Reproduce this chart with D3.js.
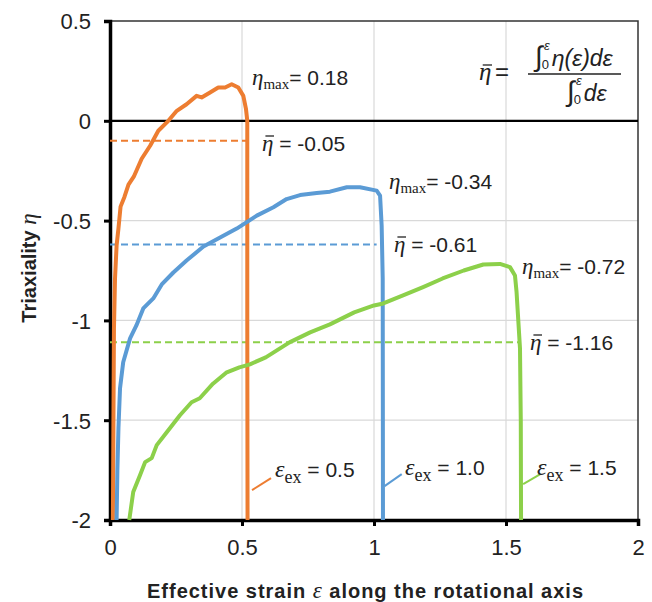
<!DOCTYPE html>
<html>
<head>
<meta charset="utf-8">
<script src="https://cdn.jsdelivr.net/npm/d3@7"></script>
<style>
  body { margin: 0; background: #fff; }
  svg { display: block; }
  text { font-family: "Liberation Sans", Arial, sans-serif; fill: #222; }
  .serif { font-family: "Liberation Serif", "DejaVu Serif", serif; font-style: italic; }
</style>
</head>
<body>
<div id="chart"></div>
<script>
// strain vs triaxiality
const ex05 = [[0.011,-2],[0.013,-1.5],[0.015,-1.04],[0.019,-0.79],[0.025,-0.625],[0.032,-0.54],[0.04,-0.43],
  [0.055,-0.38],[0.07,-0.32],[0.09,-0.28],[0.12,-0.19],[0.152,-0.125],[0.183,-0.05],[0.221,0],[0.253,0.05],
  [0.29,0.083],[0.328,0.125],[0.347,0.117],[0.379,0.142],[0.41,0.167],[0.436,0.167],[0.461,0.183],[0.486,0.167],
  [0.505,0.125],[0.515,0.06],[0.52,0],[0.52,-1],[0.521,-2]];
const ex10 = [[0.025,-2],[0.028,-1.75],[0.032,-1.54],[0.038,-1.34],[0.05,-1.21],[0.076,-1.09],[0.1,-1.025],
  [0.126,-0.94],[0.164,-0.89],[0.196,-0.82],[0.24,-0.76],[0.29,-0.70],[0.354,-0.63],[0.417,-0.585],[0.48,-0.54],
  [0.556,-0.475],[0.619,-0.433],[0.669,-0.392],[0.72,-0.372],[0.783,-0.362],[0.833,-0.355],[0.897,-0.333],
  [0.947,-0.333],[1.01,-0.35],[1.023,-0.375],[1.029,-0.525],[1.033,-0.79],[1.034,-2]];
const ex15 = [[0.073,-2],[0.088,-1.86],[0.114,-1.775],[0.133,-1.71],[0.158,-1.69],[0.177,-1.625],[0.215,-1.56],
  [0.265,-1.475],[0.309,-1.41],[0.34,-1.39],[0.39,-1.317],[0.44,-1.262],[0.49,-1.235],[0.53,-1.22],[0.59,-1.185],
  [0.68,-1.11],[0.758,-1.06],[0.833,-1.02],[0.925,-0.96],[1.0,-0.925],[1.035,-0.915],[1.11,-0.875],[1.186,-0.833],
  [1.26,-0.79],[1.34,-0.75],[1.414,-0.72],[1.477,-0.717],[1.515,-0.733],[1.534,-0.775],[1.54,-0.858],
  [1.547,-1.01],[1.553,-1.14],[1.556,-1.5],[1.557,-2]];

const seriesNames = ['0.5', '1.0', '1.5'];
const colors = ['#ED7D31', '#5B9BD5', '#8CD04A'];
// dashed average lines: level as drawn, end strain
const meanLevel = [-0.1, -0.62, -1.11];
const meanEnd = [0.54, 1.01, 1.55];
const meanText = ['-0.05', '-0.61', '-1.16'];
const maxText = ['0.18', '-0.34', '-0.72'];

const xTicks = [0, 0.5, 1, 1.5, 2];
const yTicks = [0.5, 0, -0.5, -1, -1.5, -2];

const width = 652, height = 602;
const x = d3.scaleLinear().domain([0, 2]).range([110, 638]);
const y = d3.scaleLinear().domain([-2, 0.5]).range([520, 21]);

const svg = d3.select('#chart').append('svg')
    .attr('width', width)
    .attr('height', height);

// grid
svg.append('g').selectAll('line')
    .data([0.5, 1, 1.5])
    .enter().append('line')
    .attr('x1', d => x(d)).attr('x2', d => x(d))
    .attr('y1', y(0.5)).attr('y2', y(-2))
    .attr('stroke', '#d9d9d9').attr('stroke-width', 1.2);
svg.append('g').selectAll('line')
    .data([-0.5, -1, -1.5])
    .enter().append('line')
    .attr('x1', x(0)).attr('x2', x(2))
    .attr('y1', d => y(d)).attr('y2', d => y(d))
    .attr('stroke', '#d9d9d9').attr('stroke-width', 1.2);

// frame top / right
svg.append('path')
    .attr('d', `M${x(0)},${y(0.5)}H${x(2)}V${y(-2)}`)
    .attr('fill', 'none').attr('stroke', '#333').attr('stroke-width', 1.5);

// zero line
svg.append('line')
    .attr('x1', x(0)).attr('x2', x(2))
    .attr('y1', y(0)).attr('y2', y(0))
    .attr('stroke', '#000').attr('stroke-width', 2.2);

// axes (plain hyphen minus like the original)
const yAxis = d3.axisLeft(y).tickValues(yTicks).tickSize(6).tickFormat(d => String(d));
const xAxis = d3.axisBottom(x).tickValues(xTicks).tickSize(6).tickFormat(d => String(d));

const gy = svg.append('g').attr('transform', `translate(${x(0)},0)`).call(yAxis);
const gx = svg.append('g').attr('transform', `translate(0,${y(-2)})`).call(xAxis);
[gy, gx].forEach(g => {
    g.select('.domain').attr('stroke', '#000').attr('stroke-width', 3.5);
    g.selectAll('.tick line').attr('stroke', '#000').attr('stroke-width', 3);
    g.selectAll('.tick text')
        .attr('font-family', '"Liberation Sans", Arial, sans-serif')
        .attr('font-size', 22).attr('fill', '#262626');
});
gy.selectAll('.tick text').attr('x', -19).attr('dy', '0.36em');
gx.selectAll('.tick text').attr('y', 19);

// dashed means
svg.append('g').selectAll('line')
    .data(meanLevel)
    .enter().append('line')
    .attr('x1', x(0)).attr('x2', (d, i) => x(meanEnd[i]))
    .attr('y1', d => y(d)).attr('y2', d => y(d))
    .attr('stroke', (d, i) => colors[i])
    .attr('stroke-width', 2)
    .attr('stroke-dasharray', '7,4');

// curves
const line = d3.line().x(d => x(d[0])).y(d => y(d[1]));
svg.append('g').selectAll('path')
    .data([ex05, ex10, ex15])
    .enter().append('path')
    .attr('d', line)
    .attr('fill', 'none')
    .attr('stroke', (d, i) => colors[i])
    .attr('stroke-width', 4)
    .attr('stroke-linejoin', 'round');

// bar over the first glyph of a text
function addBar(t, rise) {
    const ext = t.node().getExtentOfChar(0);
    const by = +t.attr('y') - rise;
    svg.append('line')
        .attr('x1', ext.x + ext.width * 0.3).attr('x2', ext.x + ext.width * 1.05)
        .attr('y1', by).attr('y2', by)
        .attr('stroke', '#222').attr('stroke-width', 1.3);
}

// eta_max labels
const maxPos = [[252, 85], [389, 189], [522, 274]];
maxPos.forEach((p, i) => {
    const t = svg.append('text').attr('x', p[0]).attr('y', p[1]).attr('font-size', 21);
    t.append('tspan').attr('class', 'serif').attr('font-size', 23).text('η');
    t.append('tspan').attr('font-family', '"Liberation Serif", serif').attr('font-size', 15).attr('dy', 4).text('max');
    t.append('tspan').attr('dy', -4).text('= ' + maxText[i]);
});

// eta bar labels
const meanPos = [[262, 151], [394, 252], [530, 350]];
meanPos.forEach((p, i) => {
    const t = svg.append('text').attr('x', p[0]).attr('y', p[1]).attr('font-size', 21);
    t.append('tspan').attr('class', 'serif').attr('font-size', 23).text('η');
    t.append('tspan').text(' = ' + meanText[i]);
    addBar(t, 15);
});

// strain labels with leader lines
const exPos = [[275, 477], [405, 475], [537, 475]];
const leaders = [[[0.538, -1.85], [0.61, -1.79]], [[1.04, -1.83], [1.105, -1.77]], [[1.565, -1.82], [1.63, -1.77]]];
exPos.forEach((p, i) => {
    svg.append('line')
        .attr('x1', x(leaders[i][0][0])).attr('y1', y(leaders[i][0][1]))
        .attr('x2', x(leaders[i][1][0])).attr('y2', y(leaders[i][1][1]))
        .attr('stroke', colors[i]).attr('stroke-width', 2);
    const t = svg.append('text').attr('x', p[0]).attr('y', p[1]).attr('font-size', 21);
    t.append('tspan').attr('class', 'serif').attr('font-size', 24).text('ε');
    t.append('tspan').attr('font-family', '"Liberation Serif", serif').attr('font-size', 18).attr('dy', 6).text('ex');
    t.append('tspan').attr('dy', -6).text(' = ' + seriesNames[i]);
});

// formula, top right
const eb = svg.append('text').attr('x', 479).attr('y', 80).attr('font-size', 25).attr('class', 'serif').text('η');
addBar(eb, 15);
svg.append('text').attr('x', 495).attr('y', 80).attr('font-size', 24)
    .attr('font-family', '"Liberation Serif", serif').text('=');
svg.append('line').attr('x1', 528).attr('x2', 621).attr('y1', 74).attr('y2', 74)
    .attr('stroke', '#222').attr('stroke-width', 1.3);

function integral(x0, y0, rest) {
    const t = svg.append('text').attr('x', x0).attr('y', y0).attr('font-size', 23)
        .attr('font-family', '"Liberation Serif", serif');
    t.append('tspan').attr('font-size', 28).text('∫');
    t.append('tspan').attr('font-size', 13).attr('dy', 3).attr('dx', -1).text('0');
    t.append('tspan').attr('font-size', 13).attr('dx', -5).attr('dy', -19).attr('font-style', 'italic').text('ε');
    t.append('tspan').attr('dy', 16).attr('dx', 2).attr('font-style', 'italic').text(rest);
}
integral(535, 66, 'η(ε)dε');
integral(567, 101, 'dε');

// axis titles
svg.append('text')
    .attr('x', 365).attr('y', 598)
    .attr('text-anchor', 'middle')
    .attr('font-size', 20).attr('font-weight', 'bold')
    .attr('textLength', 436).attr('lengthAdjust', 'spacing')
    .html('Effective strain <tspan font-family="Liberation Serif, serif" font-style="italic" font-weight="normal" font-size="23">ε</tspan> along the rotational axis');

svg.append('text')
    .attr('transform', 'translate(36,268) rotate(-90)')
    .attr('text-anchor', 'middle')
    .attr('font-size', 20).attr('font-weight', 'bold')
    .html('Triaxiality <tspan font-family="Liberation Serif, serif" font-style="italic" font-weight="normal" font-size="23">η</tspan>');
</script>
</body>
</html>
